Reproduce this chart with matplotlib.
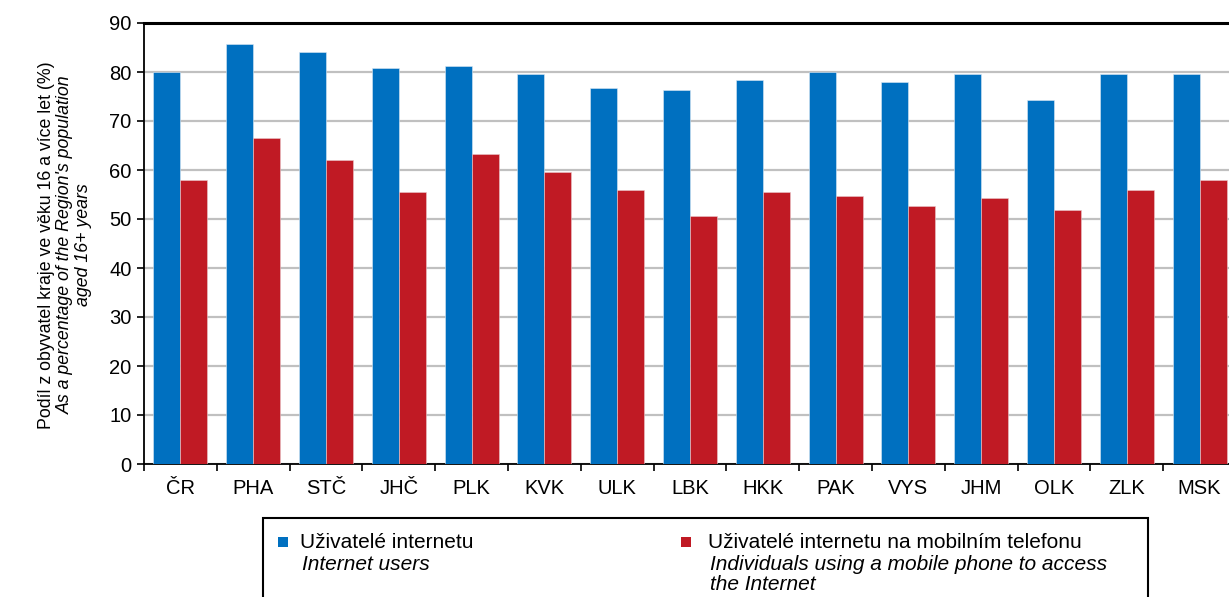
import numpy as np
import matplotlib
matplotlib.use("Agg")
import matplotlib.pyplot as plt
from matplotlib.patches import Rectangle

plt.rcParams["font.family"] = ["Liberation Sans", "DejaVu Sans"]

# ============================================================
# data
# ============================================================
regions = ["ČR", "PHA", "STČ", "JHČ", "PLK", "KVK", "ULK", "LBK",
           "HKK", "PAK", "VYS", "JHM", "OLK", "ZLK", "MSK"]

internet_users = [80.0, 85.8, 84.1, 80.8, 81.2, 79.6, 76.7, 76.3,
                  78.4, 80.0, 78.0, 79.6, 74.3, 79.6, 79.6]

mobile_users = [58.0, 66.5, 62.0, 55.5, 63.3, 59.6, 56.0, 50.6,
                55.5, 54.7, 52.7, 54.3, 51.8, 55.9, 58.0]

series_cz = ["Uživatelé internetu", "Uživatelé internetu na mobilním telefonu"]
series_en = ["Internet users", "Individuals using a mobile phone to access\nthe Internet"]

ylabel_cz = "Podíl z obyvatel kraje ve věku 16 a více let (%)"
ylabel_en = ["As a percentage of the Region's population", "aged 16+ years"]

BLUE = "#0070C0"
RED = "#C01A24"
FS_TICK = 14.5
FS_LEG = 15
FS_YLAB = 12.8

# ============================================================
# figure
# ============================================================
W, H = 1229, 597
fig = plt.figure(figsize=(W / 100, H / 100), dpi=100)


def fx(px):
    return px / W


def fy(py):
    return 1 - py / H


ax_left, ax_right, ax_top, ax_bottom = 144, 1236, 23, 464
ax = fig.add_axes([fx(ax_left), fy(ax_bottom),
                   fx(ax_right - ax_left), (ax_bottom - ax_top) / H])

x = np.arange(len(regions))
bw = 0.37
ax.bar(x - bw / 2, internet_users, bw, color=BLUE, edgecolor="#dce8f4",
       linewidth=0.4, zorder=3)
ax.bar(x + bw / 2, mobile_users, bw, color=RED, edgecolor="#e8c8cb",
       linewidth=0.4, zorder=3)

ax.set_xlim(-0.5, len(regions) - 0.5)
ax.set_ylim(0, 90)
ax.set_yticks(np.arange(0, 91, 10))
ax.tick_params(axis="y", labelsize=FS_TICK, length=5, width=1.2,
               direction="out", pad=4)

ax.set_xticks(x)
ax.set_xticklabels(regions)
ax.set_xticks(np.arange(-0.5, len(regions), 1), minor=True)
ax.tick_params(axis="x", which="major", length=0, labelsize=FS_TICK, pad=11)
ax.tick_params(axis="x", which="minor", length=5, width=1.2, direction="out")

ax.yaxis.grid(True, color="#c0c0c0", linewidth=1.6, zorder=0)
ax.set_axisbelow(True)

for side in ["left", "bottom", "top"]:
    ax.spines[side].set_color("black")
ax.spines["left"].set_linewidth(1.3)
ax.spines["bottom"].set_linewidth(1.3)
ax.spines["top"].set_linewidth(2.2)
ax.spines["right"].set_visible(False)

# y label (three lines, mixed styles)
fig.text(fx(47), fy(245), ylabel_cz, rotation=90, ha="center", va="center",
         fontsize=FS_YLAB)
fig.text(fx(65.5), fy(245), ylabel_en[0], rotation=90, ha="center",
         va="center", fontsize=FS_YLAB, style="italic")
fig.text(fx(84), fy(245), ylabel_en[1], rotation=90, ha="center",
         va="center", fontsize=FS_YLAB, style="italic")

# ============================================================
# legend (manual, box runs off the bottom)
# ============================================================
box = Rectangle((fx(263), fy(640)), fx(1148 - 263), (640 - 518) / H,
                transform=fig.transFigure, facecolor="none",
                edgecolor="black", linewidth=1.5)
fig.patches.append(box)

for col, cz, en, mx, tx in [(BLUE, series_cz[0], series_en[0], 278, 300),
                            (RED, series_cz[1], series_en[1], 681, 708)]:
    fig.patches.append(Rectangle((fx(mx), fy(547)), fx(10), 10 / H,
                                 transform=fig.transFigure, facecolor=col,
                                 edgecolor="none"))
    fig.text(fx(tx), fy(542), cz, ha="left", va="center", fontsize=FS_LEG)
    fig.text(fx(tx + 2), fy(555), en, ha="left", va="top", fontsize=FS_LEG,
             style="italic", linespacing=1.08)

fig.savefig("out.png", dpi=100)
